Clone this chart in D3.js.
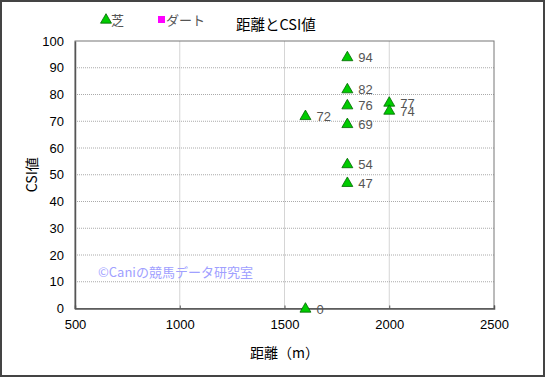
<!DOCTYPE html>
<html>
<head>
<meta charset="utf-8">
<script src="https://cdn.jsdelivr.net/npm/d3@7"></script>
<style>
  body { margin: 0; background: #fff; }
  text { font-family: "Liberation Sans", "Noto Sans CJK JP", sans-serif; }
</style>
</head>
<body>
<div id="chart"></div>
<script>
const width = 545;
const height = 377;

// distance (m) and CSI value for turf races
const distances = [1800, 1800, 1800, 1800, 1800, 1800, 1600, 1600, 2000, 2000];
const csiValues = [94, 82, 76, 69, 54, 47, 72, 0, 77, 74];
const xTicks = [500, 1000, 1500, 2000, 2500];
const yTicks = [0, 10, 20, 30, 40, 50, 60, 70, 80, 90, 100];

const margin = {left: 75, right: 51, top: 41, bottom: 68.5};

const x = d3.scaleLinear().domain([500, 2500]).range([margin.left, width - margin.right]);
const y = d3.scaleLinear().domain([0, 100]).range([height - margin.bottom, margin.top]);

const svg = d3.select("#chart")
    .append("svg")
    .attr("width", width)
    .attr("height", height);

// outer frame
svg.append("rect")
    .attr("x", 1).attr("y", 1)
    .attr("width", width - 2).attr("height", height - 2)
    .attr("fill", "#fff")
    .attr("stroke", "#444")
    .attr("stroke-width", 2);

// grid lines
svg.append("g").selectAll("line")
    .data(yTicks.slice(1, -1))
    .enter().append("line")
    .attr("x1", x(500)).attr("x2", x(2500))
    .attr("y1", d => y(d)).attr("y2", d => y(d))
    .attr("stroke", "#aaa")
    .attr("stroke-dasharray", "1,1");

svg.append("g").selectAll("line")
    .data(xTicks.slice(1, -1))
    .enter().append("line")
    .attr("x1", d => x(d)).attr("x2", d => x(d))
    .attr("y1", y(0)).attr("y2", y(100))
    .attr("stroke", "#aaa")
    .attr("stroke-dasharray", "1,1");

// plot border
svg.append("rect")
    .attr("x", x(500)).attr("y", y(100))
    .attr("width", x(2500) - x(500)).attr("height", y(0) - y(100))
    .attr("fill", "none")
    .attr("stroke", "#777");

// axes
const xAxis = svg.append("g")
    .attr("transform", "translate(0," + y(0) + ")")
    .call(d3.axisBottom(x).tickValues(xTicks).tickFormat(d3.format("d")).tickSize(-3).tickPadding(11));
const yAxis = svg.append("g")
    .attr("transform", "translate(" + x(500) + ",0)")
    .call(d3.axisLeft(y).tickValues(yTicks).tickSize(0).tickPadding(11));

[xAxis, yAxis].forEach(g => {
    g.select(".domain").attr("stroke", "#555").attr("stroke-width", 1.5);
    g.selectAll(".tick line").attr("stroke", "#555");
    g.selectAll("text").attr("fill", "#000").style("font-size", "13px");
});

// watermark
svg.append("text")
    .attr("x", 98).attr("y", 277)
    .attr("fill", "#a0a0ff")
    .style("font-size", "13px")
    .style("font-family", "'Noto Sans CJK JP', sans-serif")
    .text("©Caniの競馬データ研究室");

// points
const points = distances.map((d, i) => ({dist: d, csi: csiValues[i]}));
const tri = d3.symbol().type(d3.symbolTriangle).size(52);

svg.append("g").selectAll("path")
    .data(points)
    .enter().append("path")
    .attr("d", tri)
    .attr("transform", d => "translate(" + x(d.dist) + "," + (y(d.csi) + 0.5) + ")")
    .attr("fill", "#00cc00")
    .attr("stroke", "#006600")
    .attr("stroke-width", 0.8);

svg.append("g").selectAll("text")
    .data(points)
    .enter().append("text")
    .attr("x", d => x(d.dist) + 11)
    .attr("y", d => y(d.csi) + 5)
    .attr("fill", "#555")
    .style("font-size", "13px")
    .text(d => d.csi);

// legend
svg.append("path")
    .attr("d", tri)
    .attr("transform", "translate(106,20)")
    .attr("fill", "#00cc00")
    .attr("stroke", "#006600")
    .attr("stroke-width", 0.8);
svg.append("text")
    .attr("x", 111).attr("y", 25)
    .attr("fill", "#555")
    .style("font-size", "13px")
    .style("font-family", "'Noto Sans CJK JP', sans-serif")
    .text("芝");
svg.append("rect")
    .attr("x", 158).attr("y", 16)
    .attr("width", 7).attr("height", 7)
    .attr("fill", "#ff00ff");
svg.append("text")
    .attr("x", 166).attr("y", 25)
    .attr("fill", "#555")
    .style("font-size", "13px")
    .style("font-family", "'Noto Sans CJK JP', sans-serif")
    .text("ダート");

// title
svg.append("text")
    .attr("x", 236).attr("y", 30)
    .attr("fill", "#000")
    .style("font-size", "14.5px")
    .style("font-family", "'Noto Sans CJK JP', sans-serif")
    .text("距離とCSI値");

// axis titles
svg.append("text")
    .attr("x", x(1500)).attr("y", 358)
    .attr("text-anchor", "middle")
    .attr("fill", "#000")
    .style("font-size", "14px")
    .style("font-family", "'Noto Sans CJK JP', sans-serif")
    .text("距離（m）");

svg.append("text")
    .attr("transform", "translate(37," + y(50) + ") rotate(-90)")
    .attr("text-anchor", "middle")
    .attr("fill", "#000")
    .style("font-size", "14px")
    .style("font-family", "'Noto Sans CJK JP', sans-serif")
    .text("CSI値");
</script>
</body>
</html>
